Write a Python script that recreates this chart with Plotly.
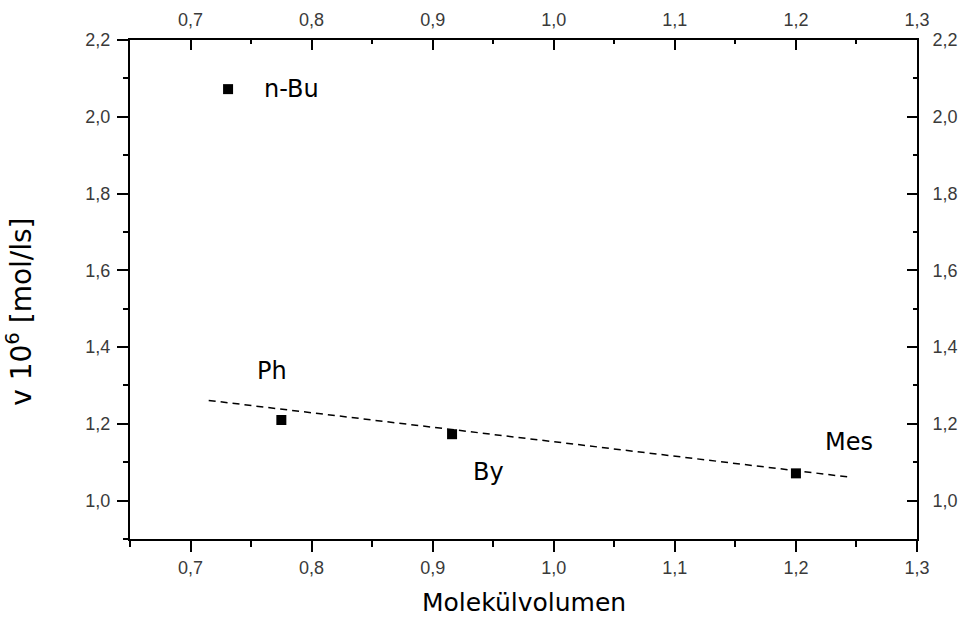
import plotly.graph_objects as go

# Reaction rate vs. molecular volume for the four substituents
names = ["n-Bu", "Ph", "By", "Mes"]
volume = [0.731, 0.775, 0.916, 1.200]
rate = [2.072, 1.210, 1.173, 1.071]

# Linear trend through Ph, By and Mes
trend_x = [0.715, 1.245]
trend_y = [1.261, 1.061]

x_ticks = [0.7, 0.8, 0.9, 1.0, 1.1, 1.2, 1.3]
y_ticks = [1.0, 1.2, 1.4, 1.6, 1.8, 2.0, 2.2]


def comma(v, n=1):
    return f"{v:.{n}f}".replace(".", ",")


x_text = [comma(v) for v in x_ticks]
y_text = [comma(v) for v in y_ticks]

X_RANGE = [0.65, 1.3]
Y_RANGE = [0.9, 2.2]

TICK_FONT = dict(family="Liberation Sans, Arial, sans-serif", size=18, color="#3a3a3a")
LABEL_FONT = dict(family="DejaVu Sans, sans-serif", size=24, color="black")

fig = go.Figure()

fig.add_trace(go.Scatter(
    x=trend_x, y=trend_y, mode="lines",
    line=dict(color="black", width=1.5, dash="7px,5px"),
    hoverinfo="skip", showlegend=False,
))
fig.add_trace(go.Scatter(
    x=volume, y=rate, mode="markers",
    marker=dict(symbol="square", size=10, color="black"),
    showlegend=False,
))
# companion trace so the mirrored top/right axes get drawn
fig.add_trace(go.Scatter(
    x=volume, y=rate, mode="markers", xaxis="x2", yaxis="y2",
    marker=dict(opacity=0), hoverinfo="skip", showlegend=False,
))

# label offsets (pixels) relative to each point
offsets = {
    "n-Bu": (34, 0),
    "Ph": (-26, 49),
    "By": (19, -38),
    "Mes": (27, 31),
}
for n, xv, yv in zip(names, volume, rate):
    dx, dy = offsets[n]
    fig.add_annotation(
        x=xv, y=yv, text=n, showarrow=False, xanchor="left", yanchor="middle",
        xshift=dx, yshift=dy, font=LABEL_FONT,
    )

axis_common = dict(
    showgrid=False, zeroline=False, showline=True, linecolor="black",
    linewidth=2, tickcolor="black", tickwidth=1.5, tickfont=TICK_FONT,
    automargin=False,
)

fig.update_layout(
    width=960, height=618,
    margin=dict(l=130, r=43, t=40, b=79),
    paper_bgcolor="white", plot_bgcolor="white",
    xaxis=dict(
        range=X_RANGE, tickvals=x_ticks, ticktext=x_text,
        ticks="outside", ticklen=11, ticklabelstandoff=0,
        minor=dict(dtick=0.05, tick0=0.65, ticks="outside", ticklen=6,
                   tickcolor="black", tickwidth=1.5),
        **axis_common,
    ),
    xaxis2=dict(
        range=X_RANGE, tickvals=x_ticks, ticktext=x_text,
        overlaying="x", side="top", anchor="y",
        ticks="inside", ticklen=10, ticklabelstandoff=5,
        minor=dict(dtick=0.05, tick0=0.65, ticks="inside", ticklen=4,
                   tickcolor="black", tickwidth=1.5),
        **axis_common,
    ),
    yaxis=dict(
        range=Y_RANGE, tickvals=y_ticks, ticktext=y_text,
        ticks="outside", ticklen=11, ticklabelstandoff=3,
        minor=dict(dtick=0.1, tick0=0.9, ticks="outside", ticklen=5,
                   tickcolor="black", tickwidth=1.5),
        **axis_common,
    ),
    yaxis2=dict(
        range=Y_RANGE, tickvals=y_ticks, ticktext=y_text,
        overlaying="y", side="right", anchor="x",
        ticks="inside", ticklen=10, ticklabelstandoff=10,
        minor=dict(dtick=0.1, tick0=0.9, ticks="inside", ticklen=4,
                   tickcolor="black", tickwidth=1.5),
        **axis_common,
    ),
)

# axis titles
fig.add_annotation(
    xref="paper", yref="paper", x=0.5, y=-0.128, yanchor="middle",
    text="Molekülvolumen", showarrow=False,
    font=dict(family="DejaVu Sans, sans-serif", size=25, color="black"),
)
fig.add_annotation(
    xref="paper", yref="paper", x=-0.14, y=0.455, xanchor="center",
    yanchor="middle", textangle=-90,
    text="v 10<sup>6</sup> [mol/ls]", showarrow=False,
    font=dict(family="DejaVu Sans, sans-serif", size=28, color="black"),
)

fig.write_html("out.html")
